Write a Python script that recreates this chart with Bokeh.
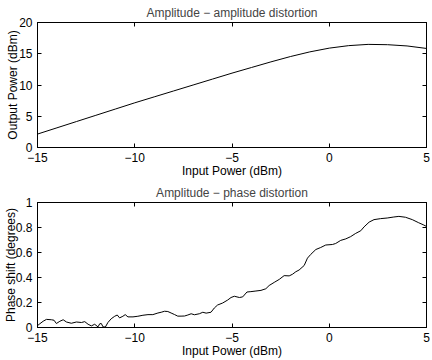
from bokeh.plotting import figure
from bokeh.layouts import column
from bokeh.models import LinearAxis, FixedTicker, Range1d
from bokeh.embed import file_html
from bokeh.resources import INLINE

FONT = "Liberation Sans"

# AM/AM curve: input power (dBm) vs output power (dBm)
am_in = [-15, -14, -13, -12, -11, -10, -9, -8, -7, -6, -5,
         -4, -3, -2, -1, 0, 1, 2, 3, 4, 5]
am_out = [2.15, 3.15, 4.15, 5.15, 6.15, 7.15, 8.1, 9.05, 10.0, 10.95, 11.9,
          12.8, 13.7, 14.55, 15.3, 15.9, 16.3, 16.5, 16.45, 16.25, 15.85]

# AM/PM curve: input power (dBm) vs phase shift (degrees)
pm_in = [-15.00, -14.88, -14.71, -14.54, -14.28, -14.15, -14.03, -13.85, -13.68, -13.51,
         -13.26, -13.00, -12.74, -12.57, -12.40, -12.23, -12.06, -11.89, -11.80, -11.72,
         -11.63, -11.51, -11.38, -11.21, -11.03, -10.90, -10.78, -10.61, -10.49, -10.35,
         -10.09, -9.84, -9.58, -9.32, -9.07, -8.81, -8.64, -8.47, -8.30, -8.13,
         -7.96, -7.79, -7.62, -7.44, -7.27, -7.10, -6.93, -6.68, -6.50, -6.33,
         -6.08, -5.91, -5.74, -5.48, -5.22, -5.05, -4.88, -4.62, -4.45, -4.23,
         -4.03, -3.77, -3.51, -3.26, -3.09, -2.83, -2.57, -2.32, -2.06, -1.89,
         -1.72, -1.55, -1.29, -1.12, -0.95, -0.69, -0.44, -0.18, 0.16, 0.33,
         0.59, 0.85, 1.10, 1.36, 1.62, 1.79, 2.05, 2.30, 2.64, 2.98,
         3.32, 3.58, 3.92, 4.27, 4.60, 4.86, 5.00]
pm_deg = [0.015, 0.030, 0.050, 0.065, 0.062, 0.058, 0.032, 0.050, 0.062, 0.044,
          0.034, 0.044, 0.040, 0.047, 0.026, 0.013, 0.026, 0.005, 0.030, 0.032,
          0.005, 0.004, 0.040, 0.070, 0.090, 0.100, 0.077, 0.090, 0.103, 0.085,
          0.085, 0.090, 0.098, 0.103, 0.103, 0.116, 0.122, 0.130, 0.128, 0.116,
          0.104, 0.091, 0.091, 0.092, 0.100, 0.110, 0.102, 0.110, 0.122, 0.115,
          0.122, 0.156, 0.180, 0.196, 0.220, 0.240, 0.250, 0.240, 0.245, 0.284,
          0.287, 0.292, 0.297, 0.310, 0.336, 0.361, 0.385, 0.415, 0.413, 0.426,
          0.446, 0.460, 0.496, 0.555, 0.585, 0.624, 0.640, 0.660, 0.664, 0.672,
          0.697, 0.709, 0.727, 0.753, 0.774, 0.805, 0.843, 0.863, 0.871, 0.876,
          0.884, 0.889, 0.882, 0.863, 0.838, 0.820, 0.808]

x_ticks = [-15, -10, -5, 0, 5]
x_tick_labels = {-15: "\u221215", -10: "\u221210", -5: "\u22125", 0: "0", 5: "5"}
am_ticks = [0, 5, 10, 15, 20]
pm_ticks = [0, 0.2, 0.4, 0.6, 0.8, 1]
pm_tick_labels = {0: "0", 0.2: "0.2", 0.4: "0.4", 0.6: "0.6", 0.8: "0.8", 1: "1"}


def style_axis(ax, ticks, labels=None):
    ax.ticker = FixedTicker(ticks=ticks)
    if labels:
        ax.major_label_overrides = labels
    ax.minor_tick_line_color = None
    ax.major_tick_in = 4
    ax.major_tick_out = 0
    ax.major_tick_line_color = "black"
    ax.axis_line_color = "black"
    ax.major_label_text_font = FONT
    ax.major_label_text_font_size = "12px"
    ax.major_label_text_color = "black"
    ax.axis_label_text_font = FONT
    ax.axis_label_text_font_size = "12px"
    ax.axis_label_text_font_style = "normal"
    ax.axis_label_text_color = "black"


def mirror_axis(ticks):
    # unlabeled axis on the opposite side: ticks drawn as inward minor ticks only
    ax = LinearAxis(ticker=FixedTicker(ticks=[], minor_ticks=ticks))
    ax.major_tick_line_color = None
    ax.minor_tick_in = 4
    ax.minor_tick_out = 0
    ax.minor_tick_line_color = "black"
    ax.axis_line_color = "black"
    ax.major_label_standoff = 0
    ax.axis_label_standoff = 0
    return ax


def make_panel(title, y_start, y_end, y_ticks, y_labels, y_label,
               top_border, bottom_border, ylab_standoff):
    p = figure(width=432, height=180, output_backend="svg", toolbar_location=None,
               x_range=Range1d(-15, 5), y_range=Range1d(y_start, y_end),
               min_border_left=36, min_border_right=6,
               min_border_top=top_border, min_border_bottom=bottom_border)
    p.title.text = title
    p.title.align = "center"
    p.title.text_font = FONT
    p.title.text_font_size = "12px"
    p.title.text_font_style = "normal"
    p.title.text_line_height = 1.0
    p.title.standoff = 6
    p.grid.visible = False
    p.outline_line_color = "black"
    p.outline_line_alpha = 1
    p.background_fill_color = "white"
    p.border_fill_color = "white"

    xa = p.xaxis[0]
    style_axis(xa, x_ticks, x_tick_labels)
    xa.axis_label = "Input Power (dBm)"
    xa.major_label_standoff = 5
    xa.axis_label_standoff = -1

    ya = p.yaxis[0]
    style_axis(ya, y_ticks, y_labels)
    ya.axis_label = y_label
    ya.major_label_standoff = 5
    ya.axis_label_standoff = ylab_standoff

    p.add_layout(mirror_axis(x_ticks), "above")
    p.add_layout(mirror_axis(y_ticks), "right")
    return p


p1 = make_panel("Amplitude \u2212 amplitude distortion", 0, 20, am_ticks, None,
                "Output Power (dBm)", 21, 29, -4)
p1.line(am_in, am_out, line_color="black", line_width=1)

p2 = make_panel("Amplitude \u2212 phase distortion", 0, 1, pm_ticks, pm_tick_labels,
                "Phase shift (degrees)", 19, 31, -5)
p2.line(pm_in, pm_deg, line_color="black", line_width=1)

layout = column(p1, p2, spacing=0)
open("out.html", "w").write(file_html(layout, INLINE))
